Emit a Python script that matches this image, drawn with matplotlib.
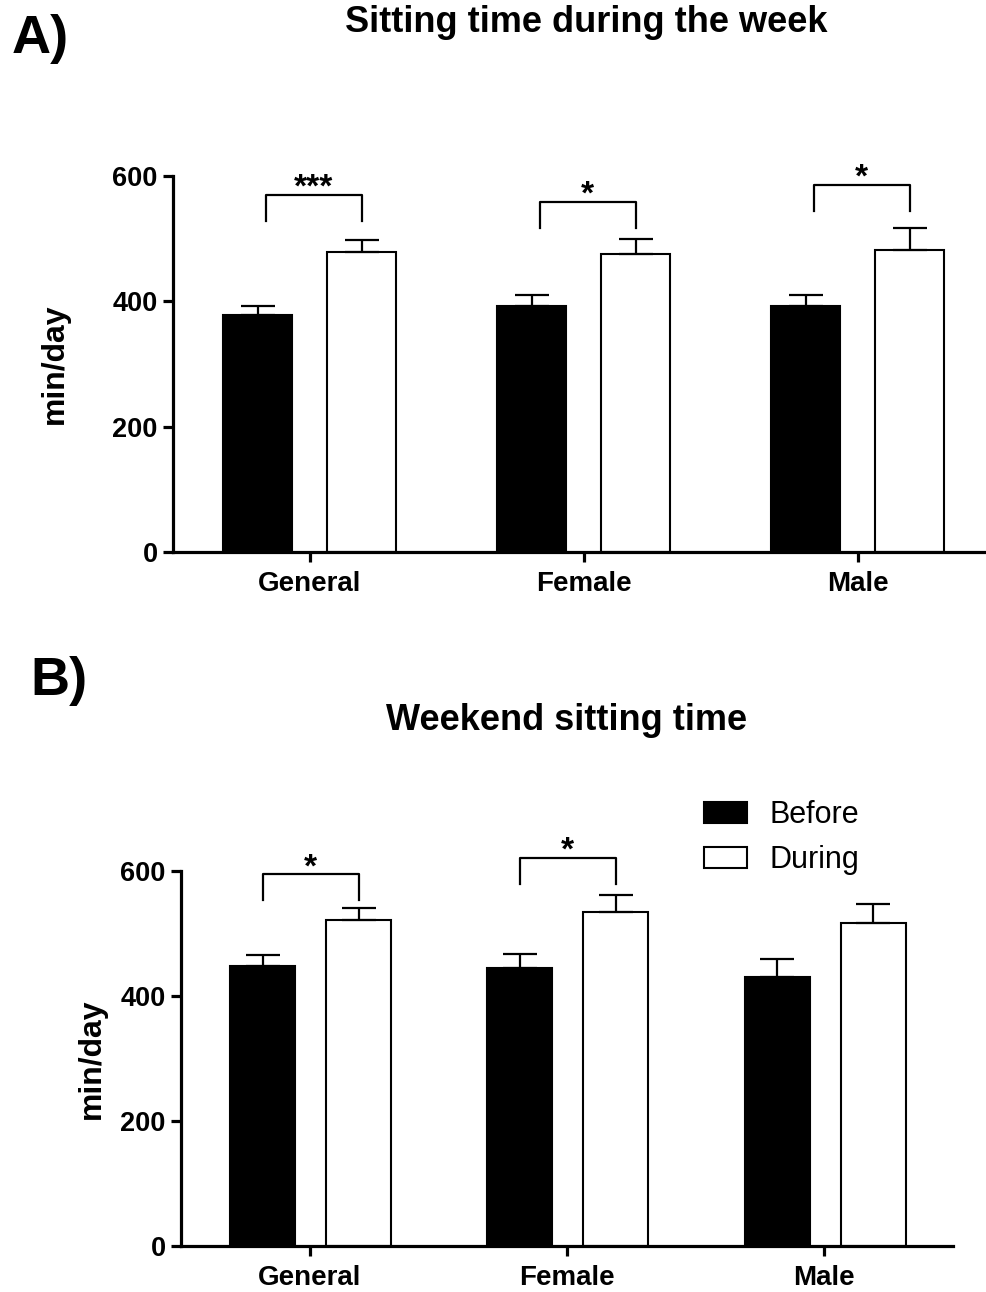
import matplotlib
matplotlib.use("Agg")
import matplotlib.pyplot as plt
from matplotlib.patches import Patch
import numpy as np

plt.rcParams['font.family'] = ['Liberation Sans', 'DejaVu Sans']

categories = ["General", "Female", "Male"]
series_labels = ["Before", "During"]

# Panel A: sitting time during the week (min/day)
week_before = [378, 393, 393]
week_before_sem = [15, 17, 17]
week_during = [479, 476, 482]
week_during_sem = [19, 24, 35]
week_sig = ["***", "*", "*"]
week_sig_level = [570, 559, 586]

# Panel B: weekend sitting time (min/day)
wknd_before = [448, 445, 430]
wknd_before_sem = [18, 22, 29]
wknd_during = [522, 534, 517]
wknd_during_sem = [19, 28, 30]
wknd_sig = ["*", "*", ""]
wknd_sig_level = [595, 621, 0]

yticks = [0, 200, 400, 600]

W, H = 987, 1292
fig = plt.figure(figsize=(W / 100, H / 100), dpi=100)


def px_axes(left, top, right, bottom):
    return fig.add_axes([left / W, 1 - bottom / H, (right - left) / W, (bottom - top) / H])


def draw_panel(ax, before, bsem, during, dsem, sig, sig_level, off_l, off_r, leg_shift):
    x = np.arange(len(categories))
    width = 0.252
    ax.bar(x - off_l, before, width, color="black", edgecolor="black", linewidth=1.5, zorder=2)
    ax.bar(x + off_r, during, width, color="white", edgecolor="black", linewidth=1.5, zorder=2)
    ax.errorbar(x - off_l, before, yerr=[np.zeros(len(before)), bsem], fmt="none",
                ecolor="black", elinewidth=1.6, capsize=12, capthick=1.6, zorder=3)
    ax.errorbar(x + off_r, during, yerr=[np.zeros(len(during)), dsem], fmt="none",
                ecolor="black", elinewidth=1.6, capsize=12, capthick=1.6, zorder=3)
    for i, (s, lvl) in enumerate(zip(sig, sig_level)):
        if not s:
            continue
        x0 = x[i] - off_l + leg_shift
        x1 = x[i] + off_r
        drop = 42
        ax.plot([x0, x0, x1, x1], [lvl - drop, lvl, lvl, lvl - drop], color="black",
                lw=1.6, clip_on=False, zorder=3)
        ax.annotate(s, xy=((x0 + x1) / 2, lvl), xytext=(0, -1.5), textcoords="offset points",
                    ha="center", va="baseline", fontsize=24, fontweight="bold",
                    annotation_clip=False)
    ax.set_xlim(-0.5, 2.5)
    ax.set_ylim(0, 600)
    ax.set_yticks(yticks)
    ax.set_xticks(x)
    ax.set_xticklabels(categories)
    for sp in ["top", "right"]:
        ax.spines[sp].set_visible(False)
    for sp in ["left", "bottom"]:
        ax.spines[sp].set_linewidth(2.3)
    ax.tick_params(axis="y", length=7, width=2.3, pad=4, labelsize=19.5)
    ax.tick_params(axis="x", length=7, width=2.3, pad=7, labelsize=20)
    for lab in ax.get_xticklabels() + ax.get_yticklabels():
        lab.set_fontweight("bold")
    ax.set_ylabel("min/day", fontsize=23, fontweight="bold")


axA = px_axes(173, 176, 995, 552)
draw_panel(axA, week_before, week_before_sem, week_during, week_during_sem,
           week_sig, week_sig_level, 0.190, 0.188, 0.03)
axA.yaxis.set_label_coords(-0.125, 0.5)

axB = px_axes(181, 871, 953, 1246)
draw_panel(axB, wknd_before, wknd_before_sem, wknd_during, wknd_during_sem,
           wknd_sig, wknd_sig_level, 0.183, 0.190, 0.0)
axB.yaxis.set_label_coords(-0.096, 0.5)

fig.text(586 / W, 1 - 22 / H, "Sitting time during the week", ha="center", va="center",
         fontsize=26, fontweight="bold")
fig.text(567 / W, 1 - 720 / H, "Weekend sitting time", ha="center", va="center",
         fontsize=26, fontweight="bold")
fig.text(12 / W, 1 - 39 / H, "A)", ha="left", va="center", fontsize=39, fontweight="bold")
fig.text(30 / W, 1 - 681 / H, "B)", ha="left", va="center", fontsize=39, fontweight="bold")

handles = [Patch(facecolor="black", edgecolor="black", linewidth=1.5),
           Patch(facecolor="white", edgecolor="black", linewidth=1.5)]
fig.legend(handles, series_labels, loc="upper left", bbox_to_anchor=(704 / W, 1 - 800 / H),
           frameon=False, fontsize=22, handlelength=1.4, handleheight=0.7,
           handletextpad=0.75, labelspacing=0.5, borderpad=0, borderaxespad=0)

fig.savefig("out.png", dpi=100)
